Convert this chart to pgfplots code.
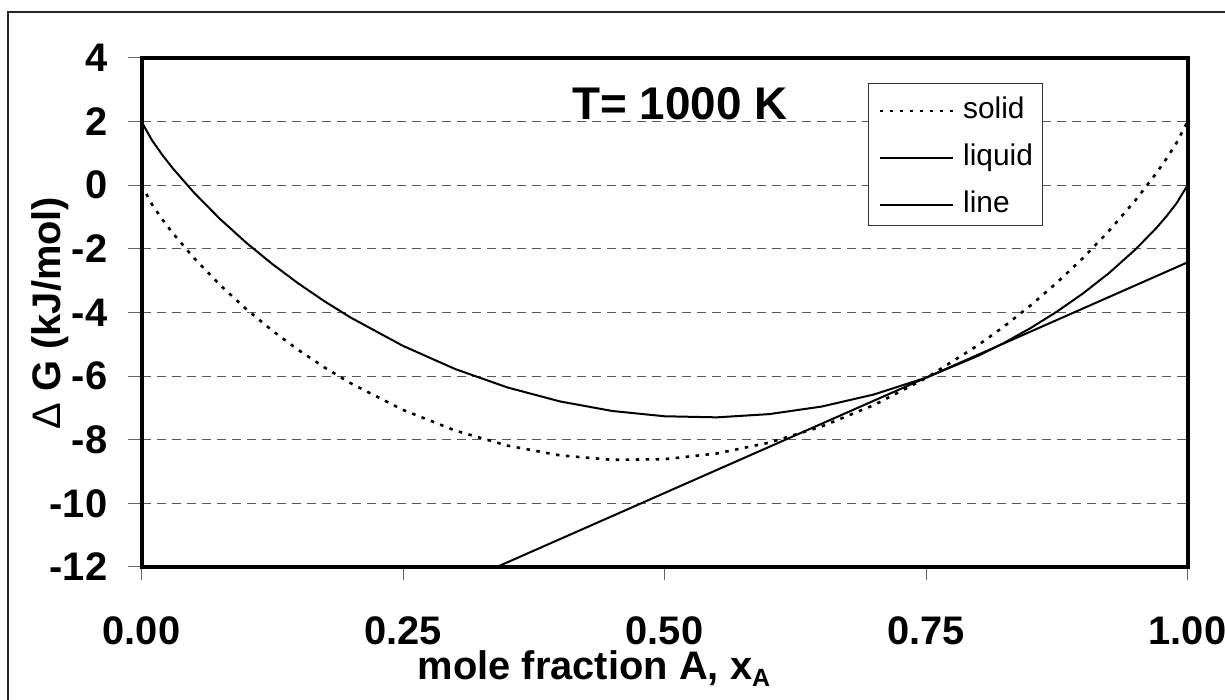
\documentclass[border=0pt]{standalone}
\usepackage{fontspec}
\setmainfont{Liberation Sans}
\usepackage{pgfplots}
\pgfplotsset{compat=1.18}
\begin{document}
\begin{tikzpicture}[x=1bp,y=1bp]
\useasboundingbox (0,0) rectangle (1225,700);
\clip (0,0) rectangle (1225,700);
\fill[white] (0,0) rectangle (1225,700);
\draw[line width=1.5bp, black!85] (8,-20) rectangle (1250,688);
\begin{axis}[
  at={(141.5bp,133bp)}, anchor=south west,
  width=1046bp, height=509bp, scale only axis,
  xmin=0, xmax=1, ymin=-12, ymax=4,
  xtick={0,0.25,0.5,0.75,1}, xticklabels={0.00,0.25,0.50,0.75,1.00},
  ytick={-12,-10,...,4},
  yticklabels={-12\kern21bp,-10\kern21bp,-8\kern21bp,-6\kern21bp,-4\kern21bp,-2\kern21bp,0\kern21bp,2\kern21bp,4\kern21bp},
  tick pos=left, tick align=outside, major tick length=13bp,
  tick style={line width=1bp, black!60},
  axis line style={line width=4bp, black},
  ymajorgrids, major grid style={line width=1.2bp, black!65, dash pattern=on 9bp off 6bp},
  xticklabel style={font=\fontsize{40}{48}\selectfont\bfseries, anchor=north, inner sep=0pt, yshift=-36bp},
  yticklabel style={font=\fontsize{40}{48}\selectfont\bfseries, anchor=east, inner sep=0pt},
  legend style={at={(rel axis cs:0.6946,0.9509)}, anchor=north west, draw=black!80, line width=1bp,
    font=\fontsize{30}{36}\selectfont, inner xsep=10bp, inner ysep=9.5bp, row sep=18bp, column sep=9bp,
    nodes={inner sep=0pt, text height=26bp, text depth=3bp}},
  legend cell align=left,
  legend image code/.code={\draw[#1] (0bp,-3.5bp) -- (73bp,-3.5bp);},
]
\addplot[black, line width=2.6bp, dash pattern=on 3.5bp off 6.5bp] coordinates {
(0,0) (0.01,-0.598) (0.02,-1.077) (0.03,-1.509) (0.05,-2.282) (0.075,-3.133) (0.1,-3.889) (0.125,-4.567) (0.15,-5.178) (0.175,-5.729) (0.2,-6.224) (0.25,-7.063) (0.3,-7.713) (0.35,-8.186) (0.4,-8.491) (0.45,-8.632) (0.5,-8.612) (0.55,-8.432) (0.6,-8.091) (0.65,-7.586) (0.7,-6.913) (0.75,-6.063) (0.8,-5.024) (0.825,-4.429) (0.85,-3.778) (0.875,-3.067) (0.9,-2.289) (0.925,-1.433) (0.95,-0.482) (0.97,0.371) (0.98,0.843) (0.99,1.362) (1,2)
};
\addlegendentry{solid}
\addplot[black, line width=2bp] coordinates {
(0,2) (0.01,1.415) (0.02,0.949) (0.03,0.528) (0.05,-0.225) (0.075,-1.059) (0.1,-1.803) (0.125,-2.476) (0.15,-3.089) (0.175,-3.649) (0.2,-4.160) (0.25,-5.050) (0.3,-5.779) (0.35,-6.358) (0.4,-6.795) (0.45,-7.096) (0.5,-7.262) (0.55,-7.296) (0.6,-7.195) (0.65,-6.958) (0.7,-6.579) (0.75,-6.050) (0.8,-5.360) (0.825,-4.949) (0.85,-4.489) (0.875,-3.976) (0.9,-3.403) (0.925,-2.759) (0.95,-2.025) (0.97,-1.352) (0.98,-0.971) (0.99,-0.545) (1,0)
};
\addlegendentry{liquid}
\addplot[black, line width=2bp] coordinates {
(0.3,-12.575) (0.4,-11.125) (0.5,-9.675) (0.6,-8.225) (0.7,-6.775) (0.8,-5.325) (0.9,-3.875) (1,-2.425)
};
\addlegendentry{line}
\end{axis}
\node[anchor=base west, inner sep=0pt, font=\fontsize{46}{50}\selectfont\bfseries] at (572,580) {T= 1000 K};
\node[rotate=90, anchor=base, inner sep=0pt, font=\fontsize{40}{48}\selectfont\bfseries] at (60,387) {{\mdseries Δ} G (kJ/mol)};
\node[anchor=base, inner sep=0pt, font=\fontsize{40}{48}\selectfont\bfseries] at (594,20) {mole fraction A, x\raisebox{-7bp}{\fontsize{25}{30}\selectfont A}};
\end{tikzpicture}
\end{document}
